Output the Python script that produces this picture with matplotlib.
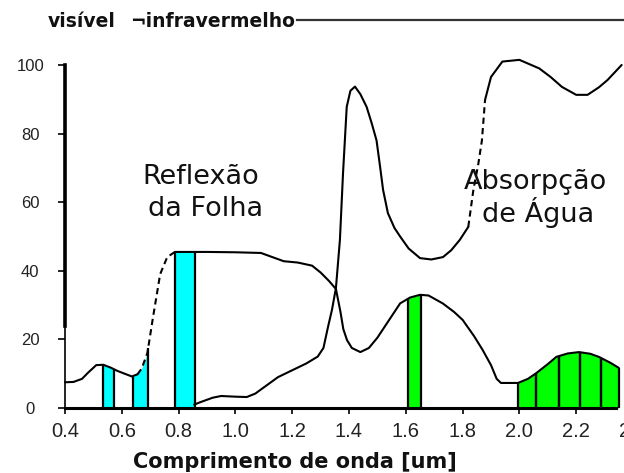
import numpy as np
import matplotlib
matplotlib.use("Agg")
import matplotlib.pyplot as plt
import logging
logging.getLogger('matplotlib.font_manager').setLevel(logging.ERROR)

# ---------------- data ----------------
leaf_wl = [0.40, 0.43, 0.46, 0.48, 0.51, 0.535, 0.56, 0.585, 0.61, 0.635, 0.655,
           0.67, 0.69, 0.71, 0.735, 0.76, 0.787, 0.90, 1.00, 1.09, 1.13, 1.17,
           1.22, 1.27, 1.30, 1.33, 1.354, 1.37, 1.38, 1.393, 1.41, 1.44, 1.47,
           1.50, 1.54, 1.58, 1.615, 1.65, 1.68, 1.73, 1.77, 1.80, 1.84, 1.87,
           1.90, 1.92, 1.935, 1.995, 2.03, 2.06, 2.10, 2.13, 2.17, 2.21, 2.25,
           2.28, 2.32, 2.35]
leaf_val = [7.5, 7.6, 8.5, 10.2, 12.5, 12.6, 11.8, 10.8, 10.0, 9.2, 9.8,
            11.5, 16.0, 26.5, 39.0, 44.0, 45.5, 45.5, 45.4, 45.2, 44.0, 42.8,
            42.4, 41.5, 39.5, 37.0, 34.7, 28.0, 23.0, 19.8, 17.5, 16.3, 17.5,
            20.5, 25.5, 30.5, 32.2, 33.0, 32.8, 30.5, 28.0, 25.7, 21.0, 17.0,
            12.5, 8.5, 7.3, 7.3, 8.5, 10.2, 12.8, 14.9, 15.9, 16.3, 15.8,
            14.9, 13.2, 11.7]

water_wl = [0.855, 0.88, 0.92, 0.95, 1.00, 1.04, 1.07, 1.10, 1.15, 1.20, 1.25,
            1.29, 1.31, 1.326, 1.34, 1.354, 1.368, 1.379, 1.392, 1.405, 1.421,
            1.44, 1.462, 1.48, 1.497, 1.51, 1.52, 1.537, 1.56, 1.58, 1.61, 1.65,
            1.69, 1.731, 1.76, 1.79, 1.82, 1.838, 1.855, 1.868, 1.879, 1.90,
            1.94, 2.00, 2.07, 2.11, 2.15, 2.20, 2.24, 2.28, 2.31, 2.36]
water_val = [1.0, 1.8, 3.0, 3.5, 3.3, 3.2, 4.2, 6.0, 9.0, 11.0, 13.0,
             15.0, 17.5, 23.6, 28.6, 35.0, 49.0, 68.5, 87.8, 92.5, 93.7,
             91.5, 87.8, 83.0, 78.0, 70.0, 63.6, 56.8, 52.5, 50.0, 46.5, 43.7,
             43.3, 44.0, 46.0, 49.0, 52.8, 63.6, 71.0, 78.0, 89.8, 96.5,
             101.0, 101.5, 99.0, 96.5, 93.6, 91.3, 91.3, 93.5, 95.6, 100.0]

cyan_bands = [(0.535, 0.574), (0.638, 0.693), (0.787, 0.858)]
green_bands = [(1.607, 1.652), (1.996, 2.06), (2.06, 2.14), (2.14, 2.213),
               (2.213, 2.286), (2.286, 2.35)]

x_ticks = [0.4, 0.6, 0.8, 1.0, 1.2, 1.4, 1.6, 1.8, 2.0, 2.2, 2.4]
x_labels = ['0.4', '0.6', '0.8', '1.0', '1.2', '1.4', '1.6', '1.8', '2.0', '2.2', '2.4']
y_ticks = [0, 20, 40, 60, 80, 100]
y_labels = ['0', '20', '40', '60', '80', '100']

# ---------------- figure ----------------
W, H = 624, 473
fig = plt.figure(figsize=(W / 100, H / 100), dpi=100)
fig.patch.set_facecolor('white')

def fx(px):
    return px / W

def fy(py):
    return 1 - py / H

ax = fig.add_axes([fx(65), fy(408), 568 / W, 343 / H])
ax.set_xlim(0.4, 2.4)
ax.set_ylim(0, 100)
ax.set_facecolor('none')

lw_wl = np.array(leaf_wl)
lv = np.array(leaf_val)
ww = np.array(water_wl)
wv = np.array(water_val)

def band_fill(lo, hi, color):
    inside = (lw_wl > lo) & (lw_wl < hi)
    xs = np.concatenate([[lo], lw_wl[inside], [hi]])
    ys = np.interp(xs, lw_wl, lv)
    ax.fill_between(xs, 0, ys, color=color, linewidth=0, zorder=1)
    ax.vlines([lo, hi], 0, ys[[0, -1]], colors='black', linewidth=1.6, zorder=3)

for lo, hi in cyan_bands:
    band_fill(lo, hi, '#00FFFF')
for lo, hi in green_bands:
    band_fill(lo, hi, '#00FF00')

def seg(x, y, lo, hi, ls):
    m = (x >= lo) & (x <= hi)
    ax.plot(x[m], y[m], color='black', linewidth=1.5, linestyle=ls,
            clip_on=False, zorder=4, solid_capstyle='round')

seg(lw_wl, lv, 0.40, 0.655, '-')
seg(lw_wl, lv, 0.655, 0.787, (0, (3, 2)))
seg(lw_wl, lv, 0.787, 2.35, '-')
seg(ww, wv, 0.855, 1.82, '-')
seg(ww, wv, 1.82, 1.879, (0, (3, 2)))
seg(ww, wv, 1.879, 2.36, '-')

# spines
for s in ['top', 'right']:
    ax.spines[s].set_visible(False)
ax.spines['left'].set_linewidth(1.2)
ax.spines['bottom'].set_linewidth(2.2)
ax.spines['bottom'].set_bounds(0.4, 2.34)
ax.plot([0.4, 0.4], [24, 100], color='black', linewidth=2.6, clip_on=False, zorder=5)

tick_font = ['Liberation Sans Narrow', 'Liberation Sans']
ax.set_xticks(x_ticks)
ax.set_xticklabels(x_labels, fontfamily=tick_font, fontsize=14.5, color='#222222')
ax.set_yticks(y_ticks)
ax.set_yticklabels(y_labels, fontfamily='Liberation Sans', fontsize=12,
                   color='#222222')
for t in ax.get_yticklabels():
    t.set_horizontalalignment('center')
ax.tick_params(axis='y', direction='out', length=5, width=1.2, pad=20)
ax.tick_params(axis='x', direction='out', length=4, width=1.2, pad=6)

# labels / annotations
fig.text(fx(295), fy(462), 'Comprimento de onda [um]', ha='center', va='center',
         fontsize=15, fontweight='bold', family='DejaVu Sans', color='#111111')

fig.text(fx(48), fy(21), 'visível', ha='left', va='center', fontsize=13.5,
         fontweight='bold', family='DejaVu Sans', color='#111111')
t_ir = fig.text(fx(130), fy(21), '¬infravermelho', ha='left', va='center',
                fontsize=13.5, fontweight='bold', family='DejaVu Sans',
                color='#111111')

ann_kw = dict(ha='center', va='center', fontsize=19.5, fontweight='normal',
              family='DejaVu Sans', color='#111111')
fig.text(fx(201), fy(177), 'Reflexão', **ann_kw)
fig.text(fx(206), fy(209), 'da Folha', **ann_kw)
fig.text(fx(535), fy(182), 'Absorpção', **ann_kw)
fig.text(fx(538), fy(212), 'de Água', **ann_kw)

fig.canvas.draw()
bb = t_ir.get_window_extent(renderer=fig.canvas.get_renderer())
x_start = (bb.x1 + 2) / W
fig.add_artist(plt.Line2D([x_start, 1.0], [fy(20), fy(20)], color='#333333',
                          linewidth=1.6))

fig.savefig('out.png', dpi=100)
